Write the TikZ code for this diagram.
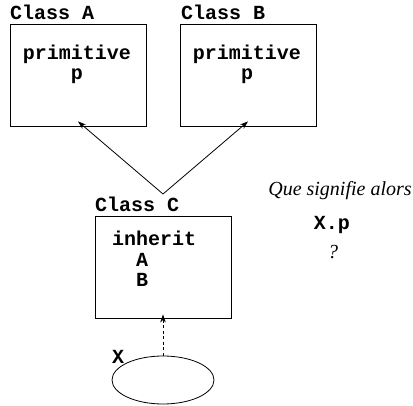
\documentclass[tikz,border=0pt]{standalone}
\usepackage{fontspec}
\setmonofont{Liberation Mono}
\newfontfamily\remfont{Liberation Serif}
\usetikzlibrary{arrows.meta,shapes.geometric}

\tikzset{
  classbox/.style={draw, line width=0.9pt, minimum width=136pt, minimum height=102pt, inner sep=0pt},
  code/.style={inner sep=0pt, font=\fontsize{20}{20}\selectfont\ttfamily\bfseries},
  remark/.style={inner sep=0pt, font=\fontsize{20}{20}\selectfont\remfont\itshape},
  inh/.style={line width=0.8pt, -{Stealth[length=8pt,width=5.5pt]}},
  inst/.style={line width=0.8pt, dash pattern=on 3pt off 2.5pt, -{Stealth[length=8pt,width=5.5pt]}},
}

\begin{document}
\begin{tikzpicture}[x=1pt, y=-1pt]
  \useasboundingbox (0,0) rectangle (413,406);

  % parent classes
  \node[classbox] (A) at (78,75) {};
  \node[classbox] (B) at (248,75) {};
  \node[code, anchor=base west] (Aname) at (10,20) {Class A};
  \node[code, anchor=base west] (Bname) at (181,20) {Class B};
  \node[code, anchor=base] (Aprim) at (77,60) {primitive};
  \node[code, anchor=base] (Ap) at (77,80) {p};
  \node[code, anchor=base] (Bprim) at (247,60) {primitive};
  \node[code, anchor=base] (Bp) at (247,80) {p};

  % heir class
  \node[classbox] (C) at (163,267) {};
  \node[code, anchor=base west] (Cname) at (95,212) {Class C};
  \node[code, anchor=base west] (Cinh) at (112,246) {inherit};
  \node[code, anchor=base west] (CA) at (136,267) {A};
  \node[code, anchor=base west] (CB) at (136,287) {B};

  % instance
  \node[draw, ellipse, line width=0.8pt, minimum width=102pt, minimum height=48pt, inner sep=0pt] (x) at (163,380) {};
  \node[code, anchor=base west] (xname) at (112,364) {X};

  % inheritance links
  \coordinate (fork) at (163,194);
  \draw[inh] (fork) -- ([yshift=5pt]A.south);
  \draw[inh] (fork) -- ([yshift=5pt]B.south);
  \draw[inst] (x.north) -- ([yshift=4pt]C.south);

  % question
  \node[remark, anchor=base] (q1) at (340,196) {Que signifie alors};
  \node[code, anchor=base] (q2) at (332,230) {X.p};
  \node[remark, anchor=base] (q3) at (333,259) {?};
\end{tikzpicture}
\end{document}
